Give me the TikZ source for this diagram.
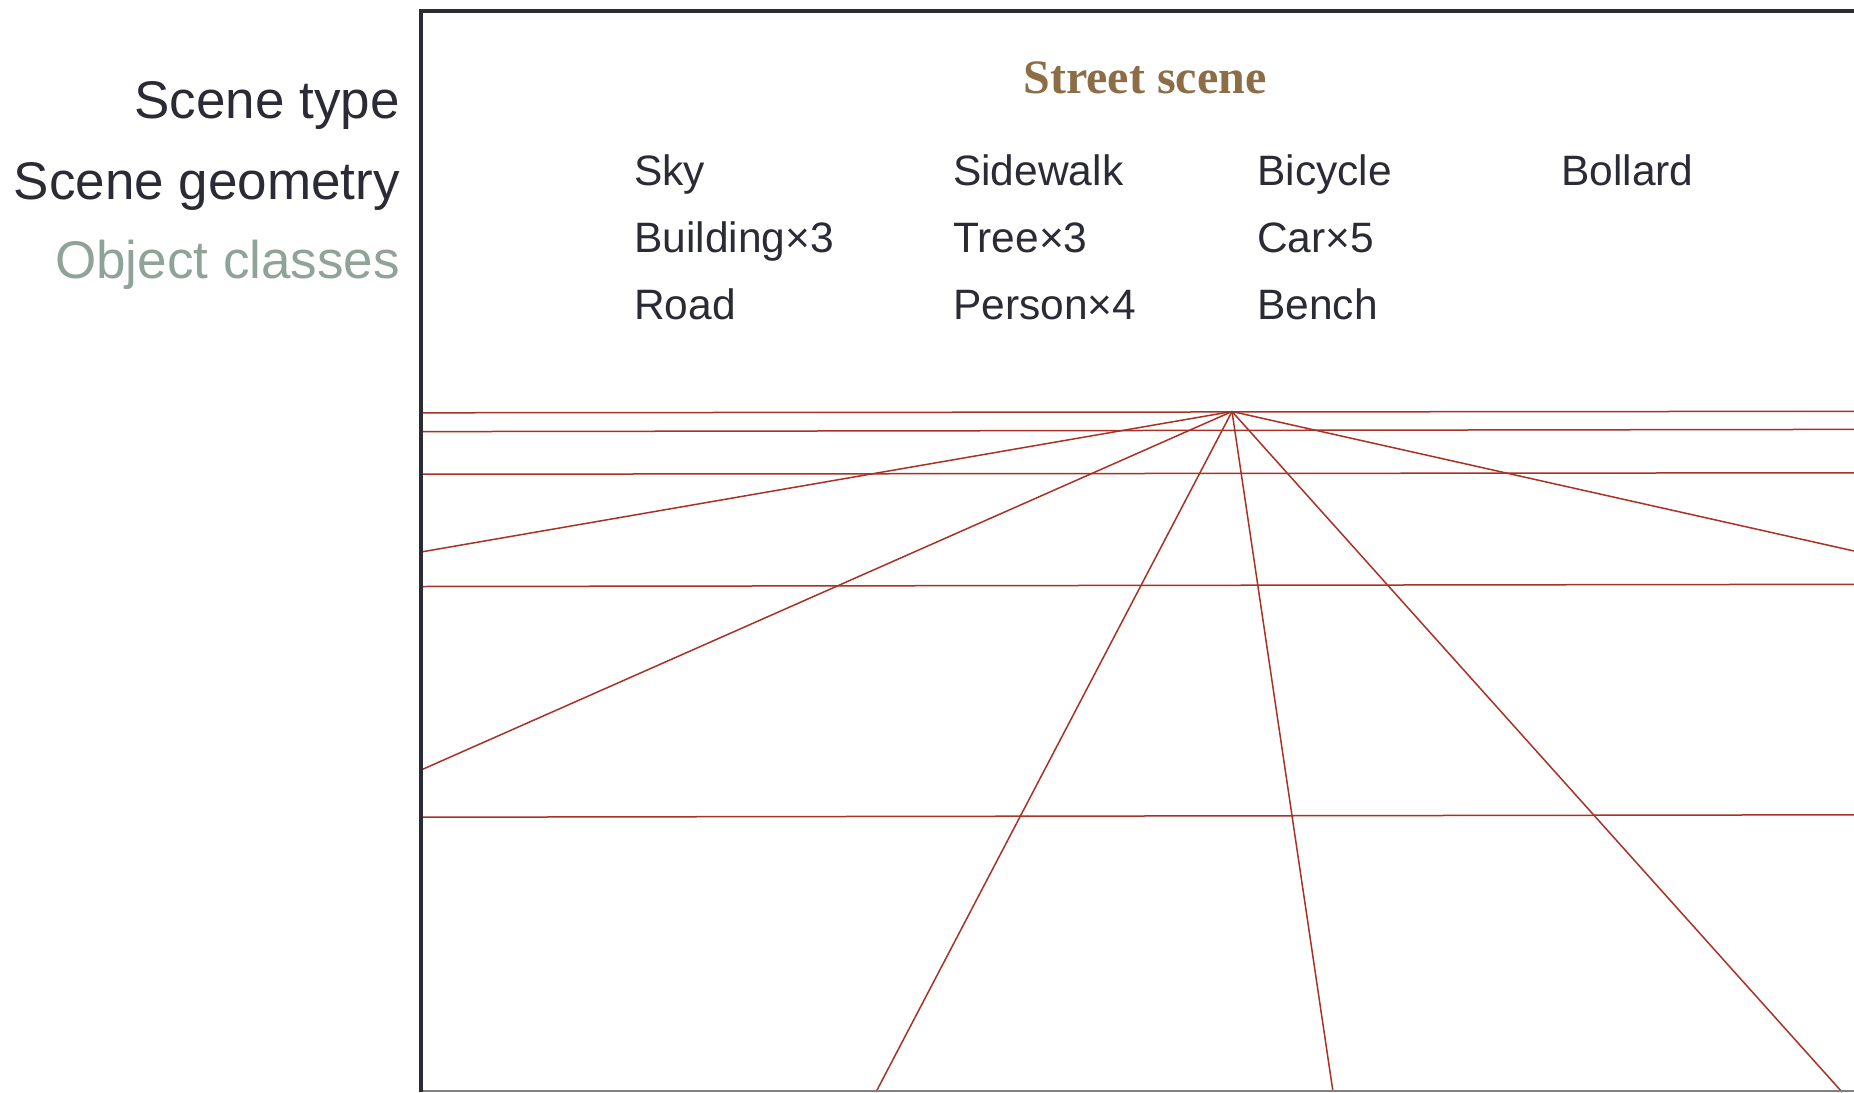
\documentclass[tikz,border=0pt]{standalone}
\usepackage{fontspec}
\setmainfont{Liberation Sans}
\newfontfamily\titlefont{Liberation Serif}
\definecolor{ink}{HTML}{2B2B36}
\definecolor{sage}{HTML}{8FA399}
\definecolor{brownt}{HTML}{8C6D46}
\definecolor{redl}{HTML}{A83225}
\begin{document}
\begin{tikzpicture}[x=1pt,y=-1pt,
  lbl/.style={anchor=base east,inner sep=0pt,font=\fontsize{53}{60}\selectfont},
  item/.style={anchor=base west,inner sep=0pt,text=ink,font=\fontsize{42.5}{48}\selectfont},
  persp/.style={draw=redl,line width=1.5pt},
  frame/.style={draw=ink,line width=4pt}]
\useasboundingbox (0,0) rectangle (1854,1092);
\fill[white] (0,0) rectangle (1854,1092);
% left labels
\node[lbl,text=ink] (st) at (400,118) {Scene type};
\node[lbl,text=ink] (sg) at (400,199) {Scene geometry};
\node[lbl,text=sage] (oc) at (400,278) {Object classes};
% title
\node[anchor=base,inner sep=0pt,text=brownt,font=\titlefont\bfseries\fontsize{48}{56}\selectfont] (title) at (1145,93) {Street scene};
% items
\node[item] (i11) at (634,185) {Sky};
\node[item] (i12) at (634,252) {Building×3};
\node[item] (i13) at (634,319) {Road};
\node[item] (i21) at (953,185) {Sidewalk};
\node[item] (i22) at (953,252) {Tree×3};
\node[item] (i23) at (953,319) {Person×4};
\node[item] (i31) at (1257,185) {Bicycle};
\node[item] (i32) at (1257,252) {Car×5};
\node[item] (i33) at (1257,319) {Bench};
\node[item] (i41) at (1561,185) {Bollard};
% perspective lines
\begin{scope}
\clip (421,0) rectangle (1854,1092);
\coordinate (vp) at (1232,411.5);
\coordinate (h1a) at (421,412.8); \coordinate (h1b) at (1854,411.3);
\coordinate (h2a) at (423,431.6); \coordinate (h2b) at (1854,429.4);
\coordinate (h3a) at (421,474.2); \coordinate (h3b) at (1854,472.8);
\coordinate (h4a) at (421,586.5); \coordinate (h4b) at (1854,584.3);
\coordinate (h5a) at (421,817.2); \coordinate (h5b) at (1854,814.8);
\draw[persp] (h1a) -- (h1b);
\draw[persp] (h2a) -- (h2b);
\draw[persp] (h3a) -- (h3b);
\draw[persp] (h4a) -- (h4b);
\draw[persp] (h5a) -- (h5b);
\coordinate (d1) at (421,552);
\coordinate (d2) at (421,770);
\coordinate (d3) at (876,1092);
\coordinate (d4) at (1333,1092);
\coordinate (d5) at (1842,1092);
\coordinate (d6) at (1854,551);
\foreach \d in {d1,d2,d3,d4,d5,d6} \draw[persp] (vp) -- (\d);
\end{scope}
% frame
\coordinate (fbl) at (421,1092);
\coordinate (ftl) at (421,10.6);
\coordinate (ftr) at (1856,10.6);
\coordinate (bl) at (421,1091.2);
\coordinate (br) at (1854,1091.2);
\draw[draw=gray,line width=1.6pt] (bl) -- (br);
\draw[frame,line join=miter] (fbl) -- (ftl) -- (ftr);
\end{tikzpicture}
\end{document}
